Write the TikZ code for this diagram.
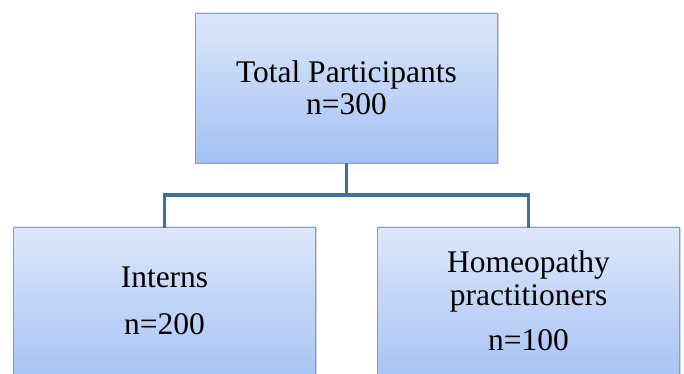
\documentclass[tikz,border=0pt]{standalone}
\usepackage{fontspec}
\setmainfont{Liberation Serif}
\usetikzlibrary{shadows}
\definecolor{boxtop}{HTML}{DDE7FA}
\definecolor{boxbot}{HTML}{A3C1F4}
\definecolor{boxline}{HTML}{9A9A9A}
\definecolor{linkc}{HTML}{41709C}
\begin{document}
\begin{tikzpicture}[x=1pt,y=1pt,
  box/.style={draw=boxline, line width=0.8pt, top color=boxtop, bottom color=boxbot,
    inner sep=0pt, minimum width=302pt,
    drop shadow={shadow xshift=1.5pt, shadow yshift=-1.5pt, opacity=0.35}},
  lbl/.style={align=center, font=\fontsize{31.5}{32}\selectfont, inner sep=0pt, text=black},
  link/.style={draw=linkc, line width=3.8pt, line join=miter}]
\useasboundingbox (0,0) rectangle (684,374);
\clip (0,0) rectangle (684,374);
% boxes
\node[box, minimum height=150pt] (top) at (346.5,286) {};
\node[box, minimum height=163pt] (left) at (164.5,65.5) {};
\node[box, minimum height=163pt] (right) at (528.5,65.5) {};
% connectors
\coordinate (j) at ([yshift=-32pt]top.south);
\draw[link] (top.south) -- (j) -| ([yshift=-1pt]left.north);
\draw[link] (j) -| ([yshift=-1pt]right.north);
% labels
\node[lbl] (toptext) at (top.center) {Total Participants\\n=300};
\node[lbl, anchor=north] (lefttext) at ([yshift=-40pt]left.north) {Interns\\[15pt]n=200};
\node[lbl, anchor=north] (righttext) at ([yshift=-23.5pt]right.north) {Homeopathy\\[1pt]practitioners\\[13pt]n=100};
\end{tikzpicture}
\end{document}
